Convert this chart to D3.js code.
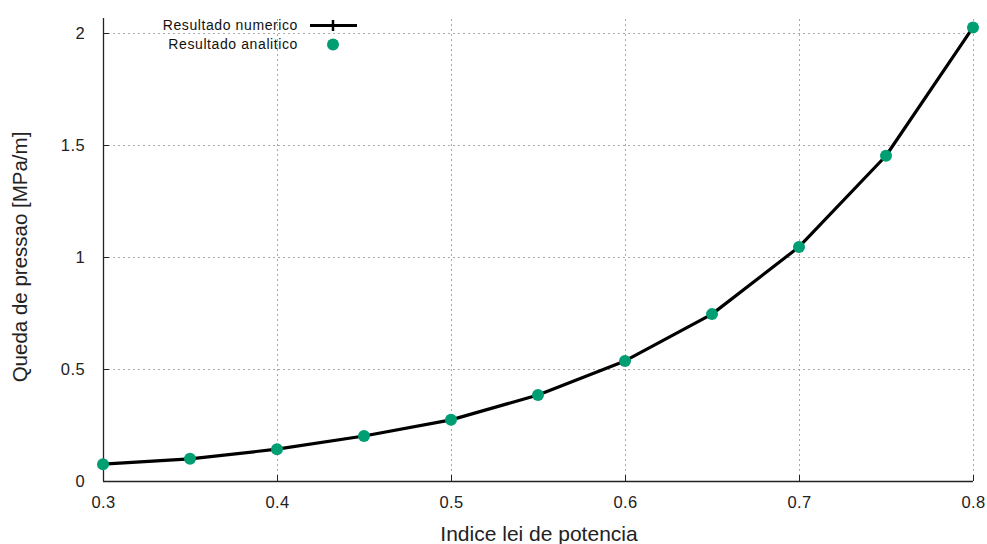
<!DOCTYPE html>
<html>
<head>
<meta charset="utf-8">
<script src="https://cdn.jsdelivr.net/npm/d3@7"></script>
<style>
  html, body { margin: 0; padding: 0; background: #fff; }
  svg { display: block; font-family: "Liberation Sans", Arial, sans-serif; }
</style>
</head>
<body>
<svg id="chart" width="987" height="544"></svg>
<script>
// Power-law index vs pressure drop
const indices = [0.30, 0.35, 0.40, 0.45, 0.50, 0.55, 0.60, 0.65, 0.70, 0.75, 0.80];
const numerico = [0.075, 0.099, 0.142, 0.201, 0.273, 0.384, 0.536, 0.745, 1.045, 1.452, 2.025];
const analitico = [0.075, 0.099, 0.142, 0.201, 0.273, 0.384, 0.536, 0.745, 1.045, 1.452, 2.025];
const xTicks = [0.3, 0.4, 0.5, 0.6, 0.7, 0.8];
const yTicks = [0, 0.5, 1, 1.5, 2];
const seriesNames = ["Resultado numerico", "Resultado analitico"];

const svg = d3.select("#chart");
const plotLeft = 103, plotRight = 973, plotTop = 33, plotBottom = 481;

const x = d3.scaleLinear().domain([0.3, 0.8]).range([plotLeft, plotRight]);
const y = d3.scaleLinear().domain([0, 2]).range([plotBottom, plotTop]);

const green = "#009e73";

// grid
const grid = svg.append("g").attr("stroke", "#aaa").attr("stroke-width", 1)
  .attr("stroke-dasharray", "2,3");
xTicks.filter(d => d > 0.3).forEach(d => {
  grid.append("line").attr("x1", x(d) + 0.5).attr("x2", x(d) + 0.5)
    .attr("y1", plotBottom).attr("y2", plotTop - 15);
});
yTicks.filter(d => d > 0).forEach(d => {
  grid.append("line").attr("x1", plotLeft).attr("x2", plotRight)
    .attr("y1", Math.round(y(d)) + 0.5).attr("y2", Math.round(y(d)) + 0.5);
});

// axes
const xAxis = d3.axisBottom(x).tickValues(xTicks).tickSize(-6).tickPadding(15)
  .tickFormat(d3.format(".1f"));
const yAxis = d3.axisLeft(y).tickValues(yTicks).tickSize(-6).tickPadding(18)
  .tickFormat(d => d3.format("")(d));

const gx = svg.append("g").attr("transform", `translate(0,${plotBottom})`).call(xAxis);
const gy = svg.append("g").attr("transform", `translate(${plotLeft},0)`).call(yAxis);
[gx, gy].forEach(g => {
  g.select(".domain").attr("stroke", "#222").attr("stroke-width", 1.3);
  g.selectAll(".tick line").attr("stroke", "#222");
  g.selectAll(".tick text").attr("fill", "#222").attr("font-size", 16.5)
    .attr("letter-spacing", 0.4)
    .attr("font-family", "Liberation Sans, Arial, sans-serif");
});
gy.select(".domain").attr("d", `M0.5,${plotBottom}V${plotTop - 15}`);
gx.select(".domain").attr("d", `M${plotLeft},0.5H${plotRight}`);

// axis titles
svg.append("text").attr("x", 539).attr("y", 541)
  .attr("text-anchor", "middle").attr("font-size", 21).attr("fill", "#222")
  .text("Indice lei de potencia");
svg.append("text").attr("transform", `translate(27,${(plotTop + plotBottom) / 2}) rotate(-90)`)
  .attr("text-anchor", "middle").attr("font-size", 20.5).attr("fill", "#222")
  .text("Queda de pressao [MPa/m]");

// numeric line
const line = d3.line().x((d, i) => x(indices[i])).y(d => y(d));
svg.append("path").datum(numerico).attr("d", line)
  .attr("fill", "none").attr("stroke", "#000").attr("stroke-width", 3.2)
  .attr("stroke-linejoin", "round");

// analytic points
svg.append("g").selectAll("circle").data(analitico).join("circle")
  .attr("cx", (d, i) => x(indices[i])).attr("cy", d => y(d))
  .attr("r", 6).attr("fill", green);

// legend
const lg = svg.append("g");
lg.append("text").attr("x", 298).attr("y", 30).attr("text-anchor", "end")
  .attr("font-size", 14).attr("letter-spacing", 0.6).attr("fill", "#111").text(seriesNames[0]);
lg.append("line").attr("x1", 310).attr("x2", 357).attr("y1", 25.5).attr("y2", 25.5)
  .attr("stroke", "#000").attr("stroke-width", 3.2);
lg.append("line").attr("x1", 333).attr("x2", 333).attr("y1", 20).attr("y2", 31)
  .attr("stroke", "#000").attr("stroke-width", 2.5);
lg.append("text").attr("x", 298).attr("y", 49).attr("text-anchor", "end")
  .attr("font-size", 14).attr("letter-spacing", 0.6).attr("fill", "#111").text(seriesNames[1]);
lg.append("circle").attr("cx", 333).attr("cy", 44.5).attr("r", 6).attr("fill", green);
</script>
</body>
</html>
